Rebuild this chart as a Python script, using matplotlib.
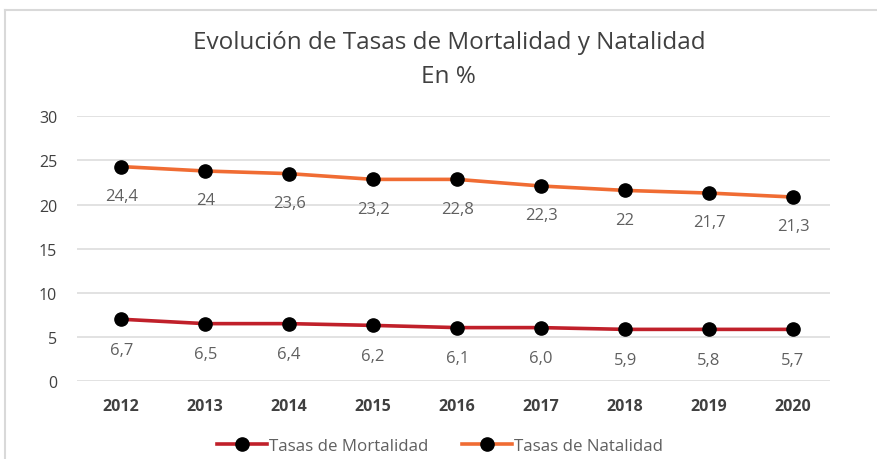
import matplotlib
matplotlib.use("Agg")
import matplotlib.pyplot as plt
from matplotlib.lines import Line2D

years = ["2012", "2013", "2014", "2015", "2016", "2017", "2018", "2019", "2020"]
# where the points sit on the chart
mortalidad = [7.0, 6.5, 6.5, 6.3, 6.05, 6.05, 5.85, 5.85, 5.85]
natalidad = [24.3, 23.8, 23.5, 22.85, 22.85, 22.1, 21.6, 21.3, 20.85]
# the data labels printed under each point
mortalidad_labels = ["6,7", "6,5", "6,4", "6,2", "6,1", "6,0", "5,9", "5,8", "5,7"]
natalidad_labels = ["24,4", "24", "23,6", "23,2", "22,8", "22,3", "22", "21,7", "21,3"]
yticks = [0, 5, 10, 15, 20, 25, 30]

plt.rcParams['font.family'] = ['Open Sans', 'DejaVu Sans']

fig = plt.figure(figsize=(8.77, 4.6), dpi=100)
ax = fig.add_axes([0.0875, 0.1696, 0.8589, 0.5754])

x = list(range(len(years)))
red = '#C0202A'
orange = '#F06C33'
ax.plot(x, mortalidad, color=red, lw=2.6, marker='o', ms=9.5,
        mfc='black', mec='black', label='Tasas de Mortalidad', zorder=3)
ax.plot(x, natalidad, color=orange, lw=2.6, marker='o', ms=9.5,
        mfc='black', mec='black', label='Tasas de Natalidad', zorder=3)

for xi, v, s in zip(x, mortalidad, mortalidad_labels):
    ax.annotate(s, (xi, v), xytext=(0, -22), textcoords='offset points',
                ha='center', va='center', fontsize=12, color='#606060')
for xi, v, s in zip(x, natalidad, natalidad_labels):
    ax.annotate(s, (xi, v), xytext=(0, -21), textcoords='offset points',
                ha='center', va='center', fontsize=12, color='#606060')

ax.set_xlim(-0.53, 8.44)
ax.set_ylim(0, 30)
ax.set_yticks(yticks)
ax.set_xticks(x)
ax.set_xticklabels(years, fontsize=11.5, fontweight='bold', color='#404040')
ax.set_yticklabels([str(t) for t in yticks], fontsize=11.5, color='#404040')
ax.tick_params(axis='both', length=0)
ax.tick_params(axis='x', pad=12)
ax.tick_params(axis='y', pad=14)
ax.grid(axis='y', color='#DDDDDD', lw=1.2)
ax.set_axisbelow(True)
for sp in ax.spines.values():
    sp.set_visible(False)

fig.text(0.512, 0.906, 'Evolución de Tasas de Mortalidad y Natalidad',
         ha='center', va='center', fontsize=17.5, color='#404040')
fig.text(0.511, 0.833, 'En %', ha='center', va='center', fontsize=17.5,
         color='#404040')

leg = fig.legend(loc='center', bbox_to_anchor=(0.502, 0.028), ncol=2, frameon=False,
                 fontsize=12.2, handlelength=2.9, columnspacing=2.0, handletextpad=0.15)
for t in leg.get_texts():
    t.set_color('#606060')

# light frame around the chart
fig.add_artist(Line2D([5 / 877, 5 / 877], [0, 1 - 11 / 460], color='#D9D9D9', lw=1.5,
                      transform=fig.transFigure))
fig.add_artist(Line2D([5 / 877, 1], [1 - 11 / 460, 1 - 11 / 460], color='#D9D9D9', lw=1.5,
                      transform=fig.transFigure))

fig.savefig('out.png', dpi=100)
